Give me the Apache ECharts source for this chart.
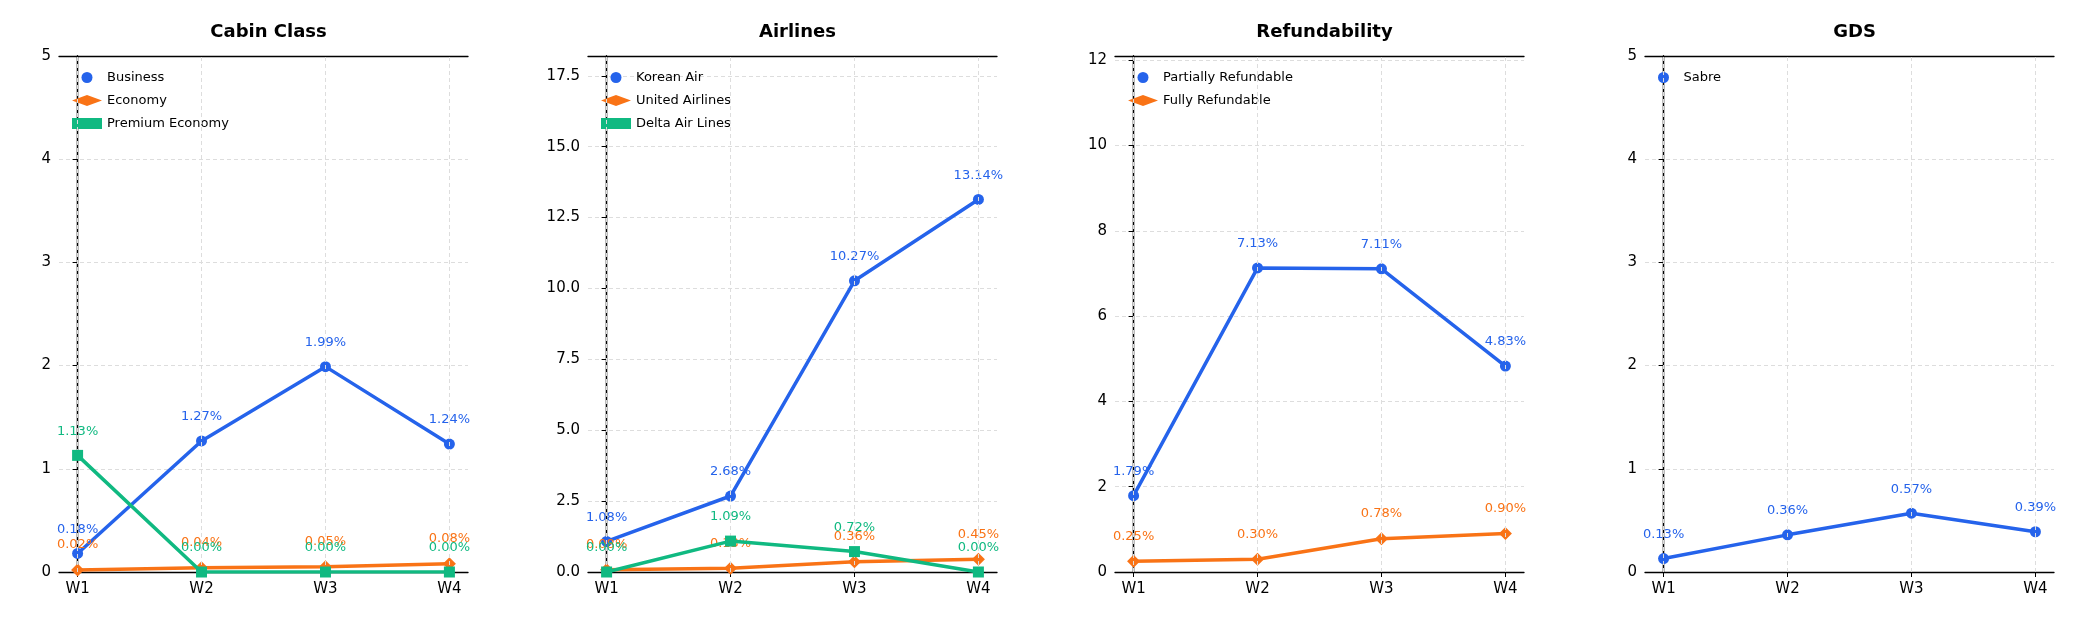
<!DOCTYPE html>
<html><head><meta charset="utf-8">
<script src="https://cdn.jsdelivr.net/npm/echarts@6/dist/echarts.min.js"></script>
<style>body{margin:0}#c{width:2087px;height:640px}</style></head>
<body><div id="c"></div>
<script>
const weeks = ['W1','W2','W3','W4'];
const titles = ['Cabin Class','Airlines','Refundability','GDS'];
const cabinNames = ['Business','Economy','Premium Economy'];
const cabinBusiness = [0.18,1.27,1.99,1.24];
const cabinEconomy = [0.02,0.04,0.05,0.08];
const cabinPremium = [1.13,0.00,0.00,0.00];
const airlineNames = ['Korean Air','United Airlines','Delta Air Lines'];
const airKorean = [1.08,2.68,10.27,13.14];
const airUnited = [0.08,0.13,0.36,0.45];
const airDelta = [0.00,1.09,0.72,0.00];
const refundNames = ['Partially Refundable','Fully Refundable'];
const refPartial = [1.79,7.13,7.11,4.83];
const refFull = [0.25,0.30,0.78,0.90];
const gdsNames = ['Sabre'];
const gdsSabre = [0.13,0.36,0.57,0.39];
const yMax = [5,18.2,12.1,5];
const yInt = [1,2.5,2,1];

(function(){
const colors = ['#2563eb','#f97316','#10b981'];
const symbols = ['circle','diamond','rect'];
const panels = [
  {names:cabinNames, data:[cabinBusiness,cabinEconomy,cabinPremium]},
  {names:airlineNames, data:[airKorean,airUnited,airDelta]},
  {names:refundNames, data:[refPartial,refFull]},
  {names:gdsNames, data:[gdsSabre]}
];
const lefts=[59,588,1115,1645], width=409, gTop=56, height=516;
const grid=[],xAxis=[],yAxis=[],series=[],legend=[],title=[];
panels.forEach((p,i)=>{
  grid.push({left:lefts[i],top:gTop,width:width,height:height});
  title.push({text:titles[i],left:lefts[i]+width/2,top:18,textAlign:'center',
    textStyle:{fontSize:18,fontWeight:'bold',color:'#000',fontFamily:'DejaVu Sans'}});
  const ticks=[0,1,2,3];
  xAxis.push({type:'value',gridIndex:i,min:-0.15,max:3.15,
    axisLine:{show:true,onZero:false,lineStyle:{color:'#000',width:1.3}},
    axisTick:{show:true,customValues:ticks,length:5,lineStyle:{color:'#000'}},
    axisLabel:{customValues:ticks,formatter:v=>weeks[Math.round(v)],fontSize:15,color:'#000',margin:10,fontFamily:'DejaVu Sans'},
    splitLine:{show:false}});
  xAxis.push({type:'value',gridIndex:i,min:-0.15,max:3.15,position:'top',
    axisLine:{show:true,onZero:false,lineStyle:{color:'#000',width:1.3}},axisTick:{show:false},axisLabel:{show:false},splitLine:{show:false}});
  yAxis.push({type:'value',gridIndex:i,min:0,max:yMax[i],interval:yInt[i],
    axisLine:{show:true,lineStyle:{color:'#000',width:1.3}},
    axisTick:{show:true,length:5,lineStyle:{color:'#000'}},
    axisLabel:{fontSize:15,color:'#000',showMaxLabel:yMax[i]%yInt[i]===0,fontFamily:'DejaVu Sans',
      formatter:v=>yInt[i]===2.5?v.toFixed(1):String(v)},
    splitLine:{show:true,lineStyle:{color:'#ddd',type:[4,3],width:1}}});
  yAxis.push({type:'value',gridIndex:i,min:0,max:yMax[i],position:'right',
    axisLine:{show:true,lineStyle:{color:'#000',width:1.3}},axisTick:{show:false},axisLabel:{show:false},splitLine:{show:false}});
  p.names.forEach((n,k)=>{
    const s={name:n,type:'line',xAxisIndex:2*i,yAxisIndex:2*i,
      data:p.data[k].map((v,j)=>[j,v]),
      symbol:symbols[k],symbolSize:k===1?13:11,
      lineStyle:{color:colors[k],width:3.5},itemStyle:{color:colors[k]},
      label:{show:true,position:'top',distance:12,formatter:q=>q.value[1].toFixed(2)+'%',
        color:colors[k],fontSize:13,fontFamily:'DejaVu Sans'},z:3+k};
    if(k===0){s.markLine={silent:true,symbol:'none',label:{show:false},
      lineStyle:{color:'#ddd',type:[4,3],width:1},data:[0,1,2,3].map(x=>({xAxis:x}))};}
    series.push(s);
  });
  legend.push({left:lefts[i]+8,top:gTop+10,orient:'vertical',data:p.names.map((n,k)=>({name:n,icon:symbols[k]})),
    itemWidth:30,itemHeight:11,itemGap:10,
    textStyle:{fontSize:13,color:'#000',fontFamily:'DejaVu Sans'}});
});
const chart=echarts.init(document.getElementById('c'),null,{renderer:'canvas'});
chart.setOption({animation:false,backgroundColor:'#fff',title,grid,xAxis,yAxis,series,legend});
})();
</script></body></html>
